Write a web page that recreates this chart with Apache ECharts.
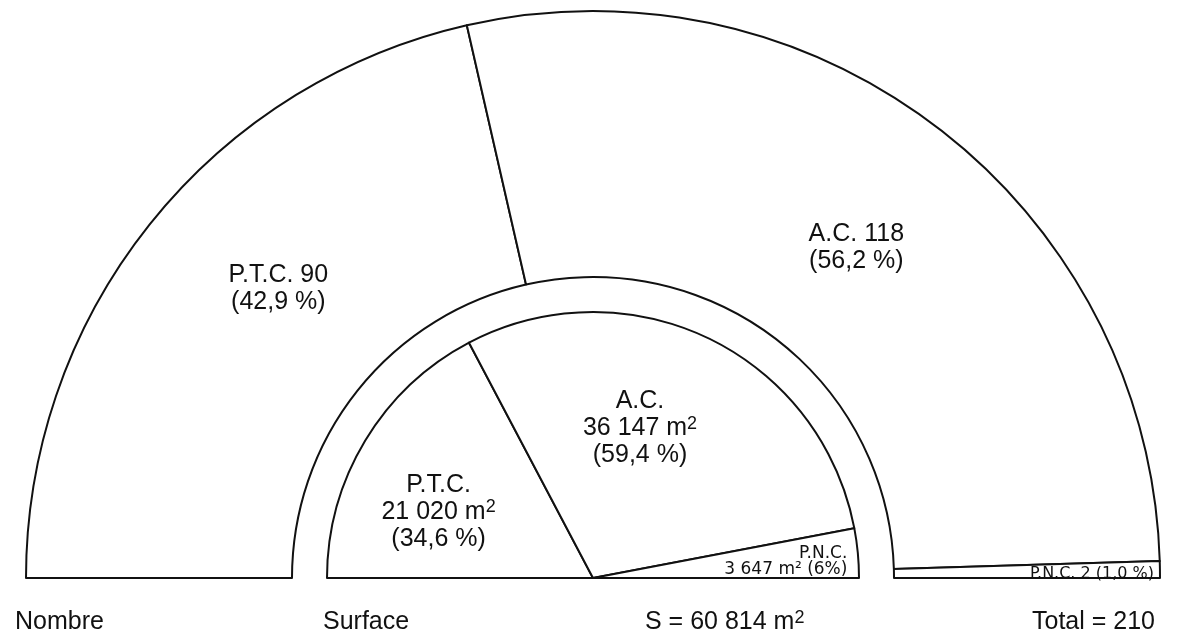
<!DOCTYPE html>
<html><head><meta charset="utf-8">
<script src="https://cdn.jsdelivr.net/npm/echarts@6/dist/echarts.min.js"></script>
<style>html,body{margin:0;padding:0;background:#fff}#chart{width:1179px;height:636px}</style>
</head><body><div id="chart"></div>
<script>
// ---- data ----
const countCategories = ['P.T.C.', 'A.C.', 'P.N.C.'];
const countValues = [90, 118, 2];
const countPercents = ['42,9', '56,2', '1,0'];
const areaCategories = ['P.T.C.', 'A.C.', 'P.N.C.'];
const areaValues = [21020, 36147, 3647];
const areaPercents = ['34,6', '59,4', '6'];
const captionLabels = ['Nombre', 'Surface'];

// ---- helpers ----
const fmt = n => String(n).replace(/\B(?=(\d{3})+(?!\d))/g, ' ');
const sum = a => a.reduce((s, v) => s + v, 0);
const MAIN_FONT = '"Liberation Sans", Arial, sans-serif';
const SMALL_FONT = '"DejaVu Sans", sans-serif';
const INK = '#111';

// label nudges (layout only)
const outerNudge = [[27, -17], [-4, 15], [62, 2]];
const innerNudge = [[-38, 4], [-12, -27], [119, -4]];

const supStyle = { fontSize: 18, lineHeight: 10, verticalAlign: 'top', fontFamily: MAIN_FONT, color: INK };

const chart = echarts.init(document.getElementById('chart'), null, { renderer: 'canvas' });

const outerData = countCategories.map((c, i) => ({
  name: c, value: countValues[i],
  label: i === 2 ? { fontSize: 16, lineHeight: 16, fontFamily: SMALL_FONT } : {}
}));
const innerData = areaCategories.map((c, i) => ({
  name: c, value: areaValues[i],
  label: i === 2 ? { fontSize: 17, lineHeight: 16, fontFamily: SMALL_FONT } : {}
}));

const baseSeries = {
  type: 'pie',
  center: [593, 578],
  startAngle: 180,
  endAngle: 360,
  clockwise: true,
  silent: true,
  animation: false,
  avoidLabelOverlap: false,
  itemStyle: { color: '#ffffff', borderColor: '#111', borderWidth: 2 },
  labelLine: { show: false },
  emphasis: { disabled: true }
};

chart.setOption({
  backgroundColor: '#ffffff',
  animation: false,
  series: [
    Object.assign({}, baseSeries, {
      name: 'Nombre',
      radius: [301, 567],
      data: outerData,
      label: {
        show: true, position: 'inside', rotate: 0,
        color: INK, fontSize: 25, lineHeight: 27, fontFamily: MAIN_FONT,
        formatter: p => p.dataIndex === 2
          ? `${p.name} ${p.value} (${countPercents[p.dataIndex]} %)`
          : `${p.name} ${p.value}\n(${countPercents[p.dataIndex]} %)`
      },
      labelLayout: p => ({ dx: outerNudge[p.dataIndex][0], dy: outerNudge[p.dataIndex][1] })
    }),
    Object.assign({}, baseSeries, {
      name: 'Surface',
      radius: [0, 266],
      data: innerData,
      label: {
        show: true, position: 'inside', rotate: 0,
        color: INK, fontSize: 25, lineHeight: 27, fontFamily: MAIN_FONT,
        rich: { sup: supStyle },
        formatter: p => p.dataIndex === 2
          ? `${p.name}\n${fmt(p.value)} m² (${areaPercents[p.dataIndex]}%)`
          : `${p.name}\n${fmt(p.value)} m{sup|2}\n(${areaPercents[p.dataIndex]} %)`
      },
      labelLayout: p => Object.assign(
        { dx: innerNudge[p.dataIndex][0], dy: innerNudge[p.dataIndex][1] },
        p.dataIndex === 2 ? { align: 'right' } : {}
      )
    })
  ],
  graphic: [
    { type: 'text', x: 15, y: 622, silent: true,
      style: { text: captionLabels[0], fontSize: 25, fontFamily: MAIN_FONT, fill: INK, align: 'left', verticalAlign: 'middle' } },
    { type: 'text', x: 323, y: 622, silent: true,
      style: { text: captionLabels[1], fontSize: 25, fontFamily: MAIN_FONT, fill: INK, align: 'left', verticalAlign: 'middle' } },
    { type: 'text', x: 645, y: 622, silent: true,
      style: { text: `S = ${fmt(sum(areaValues))} m{sup|2}`, fontSize: 25, fontFamily: MAIN_FONT, fill: INK,
               align: 'left', verticalAlign: 'middle',
               rich: { sup: { fontSize: 18, lineHeight: 10, verticalAlign: 'top', fontFamily: MAIN_FONT, fill: INK, color: INK } } } },
    { type: 'text', x: 1032, y: 622, silent: true,
      style: { text: `Total = ${sum(countValues)}`, fontSize: 25, fontFamily: MAIN_FONT, fill: INK, align: 'left', verticalAlign: 'middle' } }
  ]
});
</script></body></html>
